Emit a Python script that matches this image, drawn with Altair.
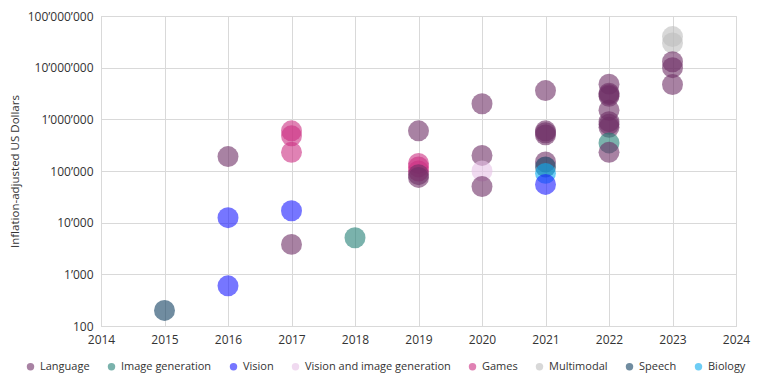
import altair as alt
import pandas as pd

years = [2015,
         2016, 2016, 2016,
         2017, 2017, 2017, 2017, 2017,
         2018,
         2019, 2019, 2019, 2019, 2019, 2019,
         2020, 2020, 2020, 2020,
         2021, 2021, 2021, 2021, 2021, 2021, 2021, 2021,
         2022, 2022, 2022, 2022, 2022, 2022, 2022, 2022, 2022, 2022,
         2023, 2023, 2023, 2023, 2023]
costs = [200,
         190000, 12500, 600,
         17000, 3800, 600000, 480000, 230000,
         5100,
         600000, 140000, 120000, 100000, 85000, 75000,
         2000000, 200000, 100000, 50000,
         3600000, 600000, 550000, 150000, 120000, 90000, 55000, 500000,
         4800000, 3200000, 3000000, 2800000, 1500000, 900000, 800000, 700000, 350000, 230000,
         40000000, 30000000, 13000000, 10000000, 4700000]
domains = ["Speech",
           "Language", "Vision", "Vision",
           "Vision", "Language", "Games", "Games", "Games",
           "Image generation",
           "Language", "Games", "Games", "Games", "Language", "Language",
           "Language", "Language", "Vision and image generation", "Language",
           "Language", "Language", "Language", "Language", "Speech", "Biology", "Vision", "Language",
           "Language", "Language", "Language", "Language", "Language", "Language", "Language", "Language", "Image generation", "Language",
           "Multimodal", "Multimodal", "Language", "Language", "Language"]

categories = ["Language", "Image generation", "Vision", "Vision and image generation",
              "Games", "Multimodal", "Speech", "Biology"]
colors = ["#6e2f66", "#217f75", "#1a1aff", "#e6c1e6",
          "#cb2f82", "#bebebe", "#113f61", "#0dacee"]

y_ticks = [100, 1000, 10000, 100000, 1000000, 10000000, 100000000]
x_ticks = list(range(2014, 2025))

df = pd.DataFrame({"year": years, "cost": costs, "domain": domains})

font = "Open Sans"
grid = "#d9d9d9"

chart = alt.Chart(df).mark_circle(size=440, opacity=0.6).encode(
    x=alt.X("year:Q",
            scale=alt.Scale(domain=[2014, 2024], nice=False, zero=False),
            axis=alt.Axis(values=x_ticks, format="d", title=None, grid=True,
                          gridColor=grid, domainColor=grid, ticks=False,
                          labelFlush=False,
                          labelPadding=8, labelFontSize=12, labelColor="#333333",
                          labelFont=font)),
    y=alt.Y("cost:Q",
            scale=alt.Scale(type="log", domain=[100, 100000000], nice=False),
            axis=alt.Axis(values=y_ticks, title="Inflation-adjusted US Dollars",
                          labelExpr="replace(format(datum.value, ','), regexp(',', 'g'), '\u2019')",
                          grid=True, gridColor=grid, domainColor=grid, ticks=False,
                          labelFlush=False,
                          labelPadding=8, labelFontSize=12, labelColor="#333333",
                          labelFont=font, titleFont=font, titleFontSize=11.5,
                          titleFontWeight="normal", titleColor="#333333",
                          titlePadding=7)),
    color=alt.Color("domain:N",
                    scale=alt.Scale(domain=categories, range=colors),
                    legend=alt.Legend(title=None, orient="none", direction="horizontal",
                                      legendX=-76, legendY=345,
                                      symbolType="circle", symbolSize=55,
                                      symbolOpacity=0.6, symbolStrokeWidth=0,
                                      labelFont=font, labelFontSize=11,
                                      labelColor="#333333", labelOffset=4,
                                      columnPadding=16)),
).properties(
    width=635, height=310,
    padding={"left": 93, "top": 8, "right": 15, "bottom": 50},
    autosize="none",
).configure_view(stroke=grid)

chart.save("out.html", embed_options={"renderer": "svg", "actions": False})
